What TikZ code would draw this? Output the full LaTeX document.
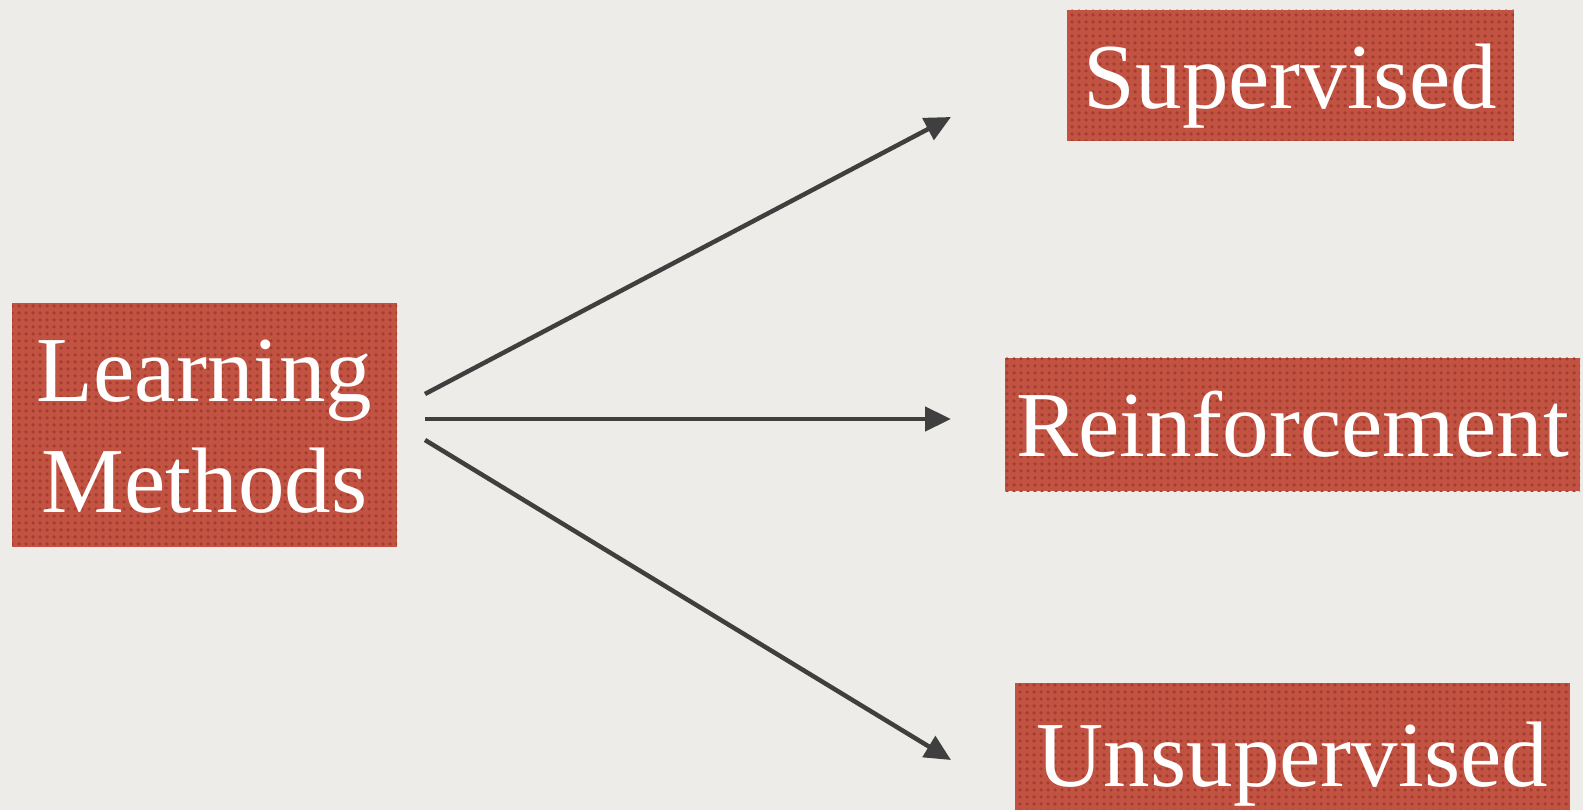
\documentclass[tikz,border=0pt]{standalone}
\usepackage{fontspec}
\setmainfont{Liberation Serif}
\usetikzlibrary{arrows.meta,patterns.meta}
\definecolor{paper}{HTML}{EEECE8}
\definecolor{boxred}{HTML}{C25242}
\definecolor{boxdot}{HTML}{A33D2E}
\definecolor{arrowc}{HTML}{3F3F3F}
\tikzset{
  redbox/.style={rectangle, inner sep=0pt, draw=none,
    preaction={fill=boxred},
    pattern={Dots[distance=6.5pt,radius=1.9pt]}, pattern color=boxdot},
  lbl/.style={inner sep=0pt, anchor=base, text=white,
    font=\fontsize{93}{111}\selectfont, align=center},
  conn/.style={draw=arrowc, line width=4.5pt,
    -{Triangle[length=26pt,width=24pt]}},
}
\begin{document}
\begin{tikzpicture}[x=1pt,y=-1pt]
\fill[paper] (0,0) rectangle (1583,810);
\useasboundingbox (0,0) rectangle (1583,810);

\node[redbox, minimum width=385pt, minimum height=244pt] (lm) at (204.5,425) {};
\node[redbox, minimum width=447pt, minimum height=131pt] (sup) at (1290.5,75.5) {};
\node[redbox, minimum width=575pt, minimum height=133pt] (rei) at (1292.5,424.5) {};
\node[redbox, minimum width=555pt, minimum height=127pt] (uns) at (1292.5,746.5) {};

\node[lbl] (lmT1) at (204.5,401) {Learning};
\node[lbl] (lmT2) at (204.5,512) {Methods};
\node[lbl] (supT) at (1290.5,109) {Supervised};
\node[lbl] (reiT) at (1292.5,456) {Reinforcement};
\node[lbl] (unsT) at (1292.5,786) {Unsupervised};

\coordinate (s1) at (425,394);
\coordinate (s2) at (425,419);
\coordinate (s3) at (425,440);
\coordinate (e1) at (951,117);
\coordinate (e2) at (951,419);
\coordinate (e3) at (951,760);

\draw[conn] (s1) -- (e1);
\draw[conn] (s2) -- (e2);
\draw[conn] (s3) -- (e3);
\end{tikzpicture}
\end{document}
